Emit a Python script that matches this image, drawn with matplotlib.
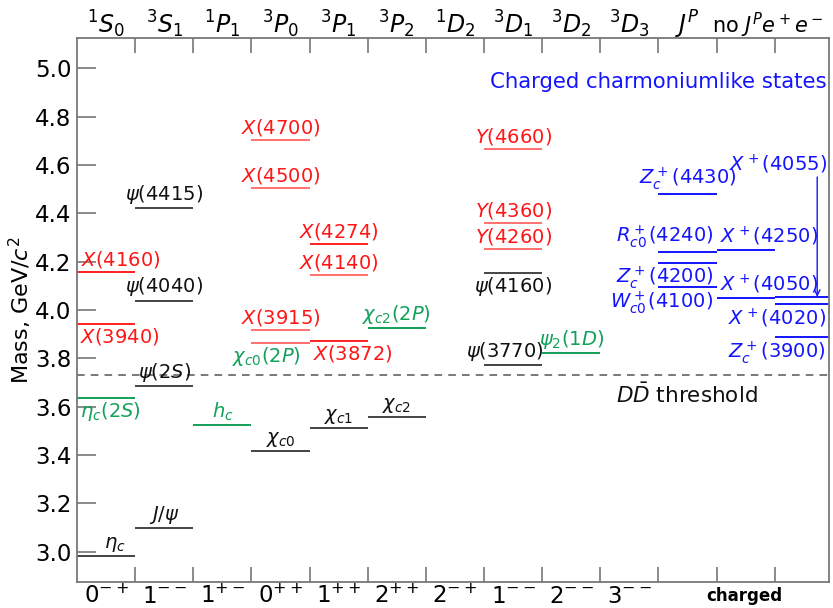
import matplotlib
matplotlib.use("Agg")
import matplotlib.pyplot as plt
from matplotlib.transforms import blended_transform_factory

plt.rcParams["font.family"] = ["DejaVu Sans"]
plt.rcParams["mathtext.fontset"] = "dejavusans"

# ---- data -------------------------------------------------------------
jpc_labels = [r"$0^{-+}$", r"$1^{--}$", r"$1^{+-}$", r"$0^{++}$", r"$1^{++}$",
              r"$2^{++}$", r"$2^{-+}$", r"$1^{--}$", r"$2^{--}$", r"$3^{--}$"]
term_labels = [r"$^1S_0$", r"$^3S_1$", r"$^1P_1$", r"$^3P_0$", r"$^3P_1$",
               r"$^3P_2$", r"$^1D_2$", r"$^3D_1$", r"$^3D_2$", r"$^3D_3$"]
extra_top_labels = [r"$J^P$", r"no $J^Pe^+e^-$"]
charged_label = "charged"

state_names = [
    r"$\eta_c$", r"$\eta_c(2S)$", r"$X$(3940)", r"$X$(4160)",
    r"$J/\psi$", r"$\psi(2S)$", r"$\psi$(4040)", r"$\psi$(4415)",
    r"$h_c$",
    r"$\chi_{c0}$", r"$\chi_{c0}(2P)$", r"$X$(3915)", r"$X$(4500)", r"$X$(4700)",
    r"$\chi_{c1}$", r"$X$(3872)", r"$X$(4140)", r"$X$(4274)",
    r"$\chi_{c2}$", r"$\chi_{c2}(2P)$",
    r"$\psi$(3770)", r"$\psi$(4160)", r"$Y$(4260)", r"$Y$(4360)", r"$Y$(4660)",
    r"$\psi_2(1D)$",
    r"$Z_c^+$(4430)", r"$R_{c0}^+$(4240)", r"$Z_c^+$(4200)", r"$W_{c0}^+$(4100)",
    r"$X^+$(4250)", r"$X^+$(4050)",
    r"$X^+$(4055)", r"$X^+$(4020)", r"$Z_c^+$(3900)",
]
state_masses = [
    2.984, 3.638, 3.942, 4.156,
    3.097, 3.686, 4.039, 4.421,
    3.525,
    3.415, 3.862, 3.918, 4.506, 4.704,
    3.511, 3.872, 4.146, 4.273,
    3.556, 3.927,
    3.773, 4.153, 4.251, 4.360, 4.664,
    3.823,
    4.478, 4.239, 4.196, 4.096,
    4.248, 4.051,
    4.054, 4.024, 3.888,
]
state_columns = [
    0, 0, 0, 0,
    1, 1, 1, 1,
    2,
    3, 3, 3, 3, 3,
    4, 4, 4, 4,
    5, 5,
    7, 7, 7, 7, 7,
    8,
    10, 10, 10, 10,
    11, 11,
    12, 12, 12,
]
state_groups = [
    "cc", "cand", "xyz", "xyz",
    "cc", "cc", "cc", "cc",
    "cand",
    "cc", "cand", "xyz", "xyz", "xyz",
    "cc", "xyz", "xyz", "xyz",
    "cc", "cand",
    "cc", "cc", "xyz", "xyz", "xyz",
    "cand",
    "charged", "charged", "charged", "charged",
    "charged", "charged",
    "charged", "charged", "charged",
]
dd_threshold = 3.7297

# ---- styling ----------------------------------------------------------
text_colors = {"cc": "#111111", "cand": "#12a05a", "xyz": "#ff1515", "charged": "#1414ff"}
line_colors = {"cc": "#444444", "cand": "#12a05a", "xyz": "#ff2020", "charged": "#1414ff"}
faint_red = "#ff7070"
faint_lines = {r"$\chi_{c0}(2P)$", r"$X$(3915)", r"$X$(4500)", r"$X$(4700)",
               r"$X$(4140)", r"$Y$(4260)", r"$Y$(4360)", r"$Y$(4660)"}

# label placement: (side, x offset within column, horizontal alignment)
placement = {
    r"$\eta_c$": ("above", 0.15, "center"),
    r"$\eta_c(2S)$": ("below", 0.07, "center"),
    r"$X$(3940)": ("below", 0.24, "center"),
    r"$X$(4160)": ("above", 0.25, "center"),
    r"$\chi_{c0}(2P)$": ("below", -0.24, "center"),
    r"$X$(3872)": ("below", 0.24, "center"),
    r"$\psi$(3770)": ("above", -0.15, "center"),
    r"$\psi$(4160)": ("below", 0.0, "center"),
    r"$R_{c0}^+$(4240)": ("above", 0.44, "right"),
    r"$Z_c^+$(4200)": ("below", 0.44, "right"),
    r"$W_{c0}^+$(4100)": ("below", 0.44, "right"),
    r"$X^+$(4250)": ("above", -0.45, "left"),
    r"$X^+$(4050)": ("above", -0.45, "left"),
    r"$X^+$(4020)": ("below", 0.38, "right"),
    r"$Z_c^+$(3900)": ("below", 0.38, "right"),
}
arrow_label = r"$X^+$(4055)"

fig = plt.figure(figsize=(8.33, 6.08), dpi=100)
ax = fig.add_axes([0.0924, 0.0428, 0.9026, 0.8947])
ax.set_xlim(0, 12.93)
ax.set_ylim(2.875, 5.125)

# threshold
ax.axhline(dd_threshold, color="#555555", lw=1.1, ls=(0, (5, 4)), zorder=1)
ax.text(10.48, dd_threshold - 0.03, r"$D\bar{D}$ threshold", ha="center", va="top",
        fontsize=15.5, color="#111111")

label_fs = 14
for name, m, col, grp in zip(state_names, state_masses, state_columns, state_groups):
    lc = faint_red if name in faint_lines else line_colors[grp]
    ax.hlines(m, col, col + 1, colors=lc, lw=1.4, zorder=2)
    tc = text_colors[grp]
    if name == arrow_label:
        ax.text(col + 0.9, 4.575, name, ha="right", va="baseline",
                fontsize=label_fs, color=tc)
        ax.annotate("", xy=(col + 0.73, m), xytext=(col + 0.73, 4.55),
                    arrowprops=dict(arrowstyle="->", color=tc, lw=1.0,
                                    shrinkA=0, shrinkB=0))
        continue
    side, dx, ha = placement.get(name, ("above", 0.0, "center"))
    xc = col + 0.5 + dx
    if side == "above":
        ax.annotate(name, xy=(xc, m), xytext=(0, 1.5), textcoords="offset points",
                    ha=ha, va="bottom", fontsize=label_fs, color=tc)
    else:
        ax.annotate(name, xy=(xc, m), xytext=(0, -1.5), textcoords="offset points",
                    ha=ha, va="top", fontsize=label_fs, color=tc)

ax.text(12.9, 4.945, "Charged charmoniumlike states", ha="right", va="center",
        fontsize=15.3, color="#1414ff")

# axes furniture
for s in ax.spines.values():
    s.set_color("#777777")
    s.set_linewidth(1.3)
ax.set_xticks(range(1, 13))
ax.set_xticklabels([])
ax.tick_params(axis="x", which="both", direction="in", length=11, width=1.2,
               color="#777777", top=True, bottom=True)
yt = [3.0 + 0.2 * i for i in range(11)]
ax.set_yticks(yt)
ax.set_yticklabels(["%.1f" % v for v in yt], fontsize=16.5)
ax.tick_params(axis="y", direction="in", length=14, width=1.2, color="#777777",
               pad=4)
ax.set_ylabel(r"Mass, GeV/$c^2$", fontsize=16)
ax.yaxis.set_label_coords(-0.057, 0.5)

trans = blended_transform_factory(ax.transData, ax.transAxes)
for i, lab in enumerate(jpc_labels):
    ax.text(i + 0.5, -0.039, lab, transform=trans, ha="center", va="baseline",
            fontsize=16.5)
ax.text(11.47, -0.035, charged_label, transform=trans, ha="center", va="baseline",
        fontsize=12, fontweight="bold")
for i, lab in enumerate(term_labels):
    ax.text(i + 0.5, 1.009, lab, transform=trans, ha="center", va="baseline", fontsize=17)
ax.text(10.5, 1.009, extra_top_labels[0], transform=trans, ha="center", va="baseline",
        fontsize=17)
ax.text(10.92, 1.009, extra_top_labels[1], transform=trans, ha="left", va="baseline",
        fontsize=15)

fig.savefig("out.png", dpi=100)
